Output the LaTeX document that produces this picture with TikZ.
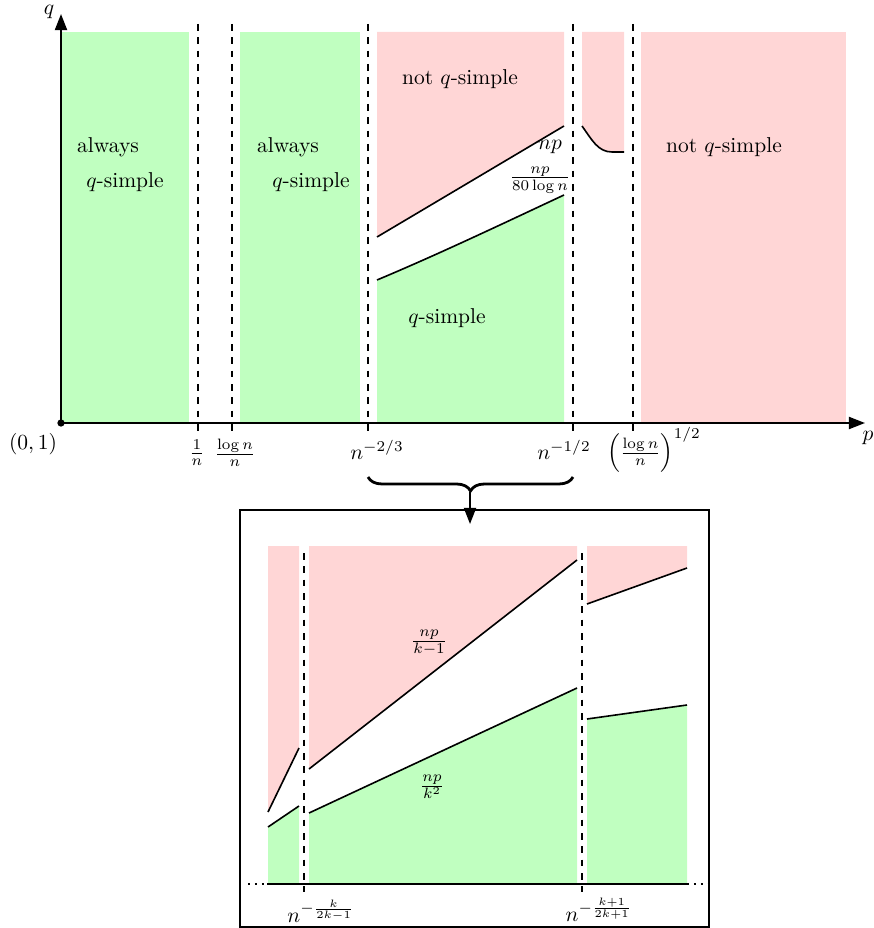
\documentclass[tikz,border=0pt]{standalone}
\usetikzlibrary{decorations.pathreplacing,arrows.meta}
\definecolor{okgreen}{RGB}{192,255,192}
\definecolor{nopink}{RGB}{255,214,214}
\begin{document}
\begin{tikzpicture}[x=0.465pt,y=-0.465pt,
  axisline/.style={line width=0.9pt},
  divider/.style={line width=0.9pt,dash pattern=on 3.1pt off 3.1pt},
  bound/.style={line width=0.75pt},
  lab/.style={inner sep=0pt},
  arrowtip/.style={-{Triangle[length=7.5pt,width=5.6pt]}}]
\useasboundingbox (0,0) rectangle (873,928);
% ---------- top plot: regions ----------
\fill[okgreen] (62,32) rectangle (189,423);
\fill[okgreen] (240,32) rectangle (360,423);
\fill[nopink] (377,32) -- (564,32) -- (564,126) -- (377,237) -- cycle;
\fill[okgreen] (377,423) -- (377,280) .. controls (439,254) and (502,224) .. (564,195) -- (564,423) -- cycle;
\fill[nopink] (582,32) -- (624,32) -- (624,152) -- (612,152) .. controls (598,152) and (592,140) .. (582,126) -- cycle;
\fill[nopink] (641,32) rectangle (846,423);
% boundary curves
\draw[bound] (377,237) -- (564,126);
\draw[bound] (377,280) .. controls (439,254) and (502,224) .. (564,195);
\draw[bound] (582,126) .. controls (592,140) and (598,152) .. (612,152) -- (624,152);
% dashed dividers
\foreach \x in {198,232,368,573,633} \draw[divider] (\x,24) -- (\x,433);
% axes
\coordinate (O) at (61,423);
\coordinate (qend) at (61,14);
\coordinate (pend) at (865,423);
\draw[axisline,arrowtip] (O) -- (qend);
\draw[axisline,arrowtip] (O) -- (pend);
\fill (O) circle (1.7pt);
\node[lab] (qlab) at (49,12) {$q$};
\node[lab] (plab) at (868,438) {$p$};
\node[lab] (origin) at (33,444) {$(0,1)$};
\node[lab] (t1) at (197,453) {$\frac{1}{n}$};
\node[lab] (t2) at (235,453) {$\frac{\log n}{n}$};
\node[lab] (t3) at (377,450) {$n^{-2/3}$};
\node[lab] (t4) at (564,450) {$n^{-1/2}$};
\node[lab] (t5) at (654,450) {$\left(\frac{\log n}{n}\right)^{1/2}$};
% region texts
\node[lab] (a1) at (108,147) {always};
\node[lab] (s1) at (125,182) {$q$-simple};
\node[lab] (a2) at (288,147) {always};
\node[lab] (s2) at (311,182) {$q$-simple};
\node[lab] (n1) at (460,79) {not $q$-simple};
\node[lab] (n2) at (724,147) {not $q$-simple};
\node[lab] (s3) at (447,318) {$q$-simple};
\node[lab] (np) at (550,147) {$np$};
\node[lab] (nplog) at (540,180) {$\frac{np}{80\log n}$};
% ---------- brace and arrow ----------
\coordinate (bl) at (368,477);
\coordinate (br) at (573,477);
\draw[line width=1.3pt,decorate,decoration={brace,amplitude=6.5pt}] (br) -- (bl);
\coordinate (btip) at (470,492);
\coordinate (boxin) at (470,524);
\draw[line width=0.9pt,arrowtip] (btip) -- (boxin);
% ---------- bottom box ----------
\coordinate (boxnw) at (240,510);
\coordinate (boxse) at (709,927);
\draw[line width=0.7pt] (boxnw) rectangle (boxse);
% regions
\fill[nopink] (268,546) -- (299,546) -- (299,748) -- (268,812) -- cycle;
\fill[okgreen] (268,884) -- (268,827) -- (299,806) -- (299,884) -- cycle;
\fill[nopink] (309,546) -- (577,546) -- (577,560) -- (309,769) -- cycle;
\fill[okgreen] (309,884) -- (309,813) -- (577,688) -- (577,884) -- cycle;
\fill[nopink] (587,546) -- (687,546) -- (687,568) -- (587,604) -- cycle;
\fill[okgreen] (587,884) -- (587,719) -- (687,705) -- (687,884) -- cycle;
\draw[bound] (268,812) -- (299,748);
\draw[bound] (268,827) -- (299,806);
\draw[bound] (309,769) -- (577,560);
\draw[bound] (309,813) -- (577,688);
\draw[bound] (587,604) -- (687,568);
\draw[bound] (587,719) -- (687,705);
\foreach \x in {304,582} \draw[divider] (\x,553) -- (\x,892);
\coordinate (bax1) at (267,884);
\coordinate (bax2) at (687,884);
\draw[axisline] (bax1) -- (bax2);
\coordinate (dl1) at (248,884);
\coordinate (dr2) at (709,884);
\draw[line width=1pt,dash pattern=on 0.9pt off 2.3pt] (dl1) -- (bax1);
\draw[line width=1pt,dash pattern=on 0.9pt off 2.3pt] (bax2) -- (dr2);
\node[lab] (f1) at (429,643) {$\frac{np}{k-1}$};
\node[lab] (f2) at (432,787) {$\frac{np}{k^2}$};
\node[lab] (b1) at (321,911) {$n^{-\frac{k}{2k-1}}$};
\node[lab] (b2) at (599,910) {$n^{-\frac{k+1}{2k+1}}$};
\end{tikzpicture}
\end{document}
